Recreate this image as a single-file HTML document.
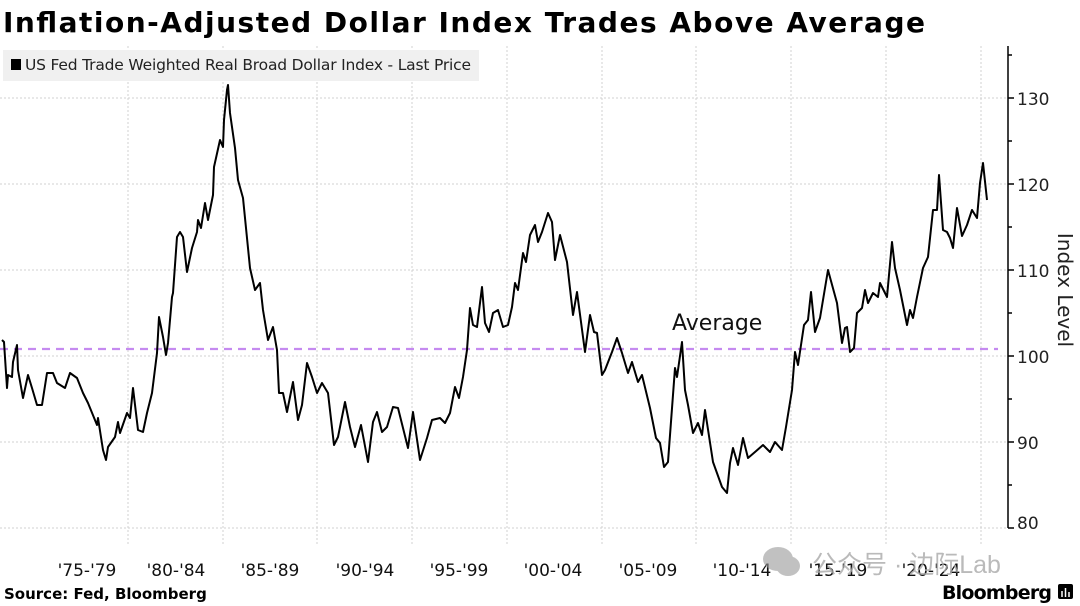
<!DOCTYPE html>
<html><head><meta charset="utf-8"><style>
body{margin:0;background:#fff;width:1080px;height:606px;overflow:hidden;font-family:"DejaVu Sans","Liberation Sans",sans-serif}
</style></head><body>
<svg width="1080" height="606" xmlns="http://www.w3.org/2000/svg" style="position:absolute;left:0;top:0">
<rect width="1080" height="606" fill="#fff"/>
<g stroke="#d0d0d0" stroke-width="1" stroke-dasharray="2,2">
<line x1="0" y1="98" x2="1008" y2="98"/><line x1="0" y1="184" x2="1008" y2="184"/><line x1="0" y1="270" x2="1008" y2="270"/>
<line x1="0" y1="356" x2="1008" y2="356"/><line x1="0" y1="442" x2="1008" y2="442"/><line x1="0" y1="528" x2="1008" y2="528"/>
<line x1="128" y1="46" x2="128" y2="545"/><line x1="223" y1="46" x2="223" y2="545"/><line x1="317" y1="46" x2="317" y2="545"/>
<line x1="412" y1="46" x2="412" y2="545"/><line x1="507" y1="46" x2="507" y2="545"/><line x1="602" y1="46" x2="602" y2="545"/>
<line x1="696" y1="46" x2="696" y2="545"/><line x1="791" y1="46" x2="791" y2="545"/><line x1="886" y1="46" x2="886" y2="545"/><line x1="981" y1="46" x2="981" y2="545"/>
</g>
<rect x="3" y="50" width="476" height="31" fill="#f0f0f0"/>
<rect x="11" y="59" width="10" height="11" fill="#000"/>
<text x="25" y="70" font-size="15.5" fill="#222" textLength="446">US Fed Trade Weighted Real Broad Dollar Index - Last Price</text>
<text x="3" y="32" font-size="28" font-weight="bold" fill="#000" textLength="922">Inflation-Adjusted Dollar Index Trades Above Average</text>
<line x1="0" y1="349" x2="998" y2="349" stroke="#c58af0" stroke-width="2.2" stroke-dasharray="8,6"/>
<polyline fill="none" stroke="#000" stroke-width="2" stroke-linejoin="round" points="2,340 4,342 7,388 8,375 12,377 13,362 17,345 18,370 23,398 28,375 32,388 37,405 42,405 47,373 53,373 57,383 65,388 70,373 77,378 83,393 88,403 97,425 98,418 103,450 106,460 108,447 115,437 118,422 120,433 127,413 130,418 133,388 138,430 143,432 147,413 152,393 157,353 159,317 163,337 166,355 168,343 172,297 173,293 177,237 180,232 183,237 187,272 192,248 197,232 198,220 201,228 205,203 208,220 213,195 214,167 220,140 223,147 224,120 227,90 228,85 230,113 235,148 238,180 243,198 250,268 255,290 260,283 263,310 268,340 273,327 277,350 279,393 283,393 287,412 293,382 298,420 302,405 307,363 312,377 317,393 322,383 328,393 334,445 338,437 345,402 350,427 355,447 361,425 368,462 373,422 377,412 382,432 387,427 393,407 398,408 408,448 413,412 420,460 427,438 432,420 440,418 445,423 450,413 455,387 459,398 463,377 467,350 470,308 473,325 477,327 482,287 485,323 489,332 493,313 498,310 503,327 508,325 512,307 515,283 518,290 523,253 526,262 530,235 535,225 538,242 542,232 548,213 552,222 555,260 560,235 567,262 573,315 577,292 585,352 590,315 594,332 597,333 602,375 605,370 612,352 617,338 622,353 628,373 632,362 638,382 642,375 650,408 656,438 660,443 664,467 668,462 675,368 677,377 682,342 685,390 688,405 693,433 698,423 702,435 705,410 713,462 722,487 727,493 730,463 733,448 738,465 743,438 748,458 755,452 763,445 770,452 775,442 782,450 786,427 792,390 795,352 798,365 804,325 808,320 811,292 815,332 820,318 828,270 837,303 842,343 845,328 847,327 850,352 854,348 857,313 862,308 865,290 868,303 873,293 878,297 880,283 887,297 892,242 895,268 900,290 907,325 910,310 913,318 917,297 923,268 928,257 933,210 937,210 939,175 943,230 947,232 950,238 953,248 957,208 962,236 967,225 972,210 977,218 980,183 983,163 987,200"/>
<text x="672" y="330" font-size="22" fill="#111">Average</text>
<line x1="1008" y1="46" x2="1008" y2="528" stroke="#000" stroke-width="1.5"/>
<g stroke="#000" stroke-width="1.5">
<line x1="1008" y1="98" x2="1014" y2="98"/><line x1="1008" y1="184" x2="1014" y2="184"/><line x1="1008" y1="270" x2="1014" y2="270"/><line x1="1008" y1="356" x2="1014" y2="356"/><line x1="1008" y1="442" x2="1014" y2="442"/><line x1="1008" y1="528" x2="1014" y2="528"/>
<line x1="1008" y1="55" x2="1012" y2="55"/><line x1="1008" y1="141" x2="1012" y2="141"/><line x1="1008" y1="227" x2="1012" y2="227"/><line x1="1008" y1="313" x2="1012" y2="313"/><line x1="1008" y1="399" x2="1012" y2="399"/><line x1="1008" y1="485" x2="1012" y2="485"/>
</g>
<g font-size="17" fill="#222">
<text x="1017" y="105">130</text><text x="1017" y="191">120</text><text x="1017" y="277">110</text><text x="1017" y="363">100</text><text x="1017" y="449">90</text><text x="1017" y="529">80</text>
</g>
<text transform="translate(1058,290) rotate(90)" text-anchor="middle" font-size="20" fill="#222">Index Level</text>
<g font-size="17" fill="#111" text-anchor="middle">
<text x="87" y="576">'75-'79</text><text x="176" y="576">'80-'84</text><text x="270" y="576">'85-'89</text><text x="365" y="576">'90-'94</text><text x="459" y="576">'95-'99</text><text x="553" y="576">'00-'04</text><text x="648" y="576">'05-'09</text><text x="742" y="576">'10-'14</text><text x="838" y="576">'15-'19</text><text x="931" y="576">'20-'24</text>
</g>
<g fill="#999" opacity="0.6"><ellipse cx="778" cy="559" rx="15" ry="12"/><ellipse cx="788" cy="566" rx="12" ry="10"/></g>
<text x="812" y="573" font-size="25" fill="#aaa" opacity="0.8" font-family="'Liberation Sans','Noto Sans CJK SC',sans-serif">公众号 · 边际Lab</text>
<text x="4" y="599" font-size="15" font-weight="bold" fill="#000">Source: Fed, Bloomberg</text>
<text x="942" y="599" font-size="19" font-weight="bold" fill="#000" textLength="110">Bloomberg</text>
<rect x="1058" y="584" width="15" height="15" rx="2" fill="#000"/>
<g stroke="#fff" stroke-width="1.5"><line x1="1062" y1="597" x2="1062" y2="591"/><line x1="1065.5" y1="597" x2="1065.5" y2="588"/><line x1="1069" y1="597" x2="1069" y2="592"/></g>
</svg>
</body></html>
